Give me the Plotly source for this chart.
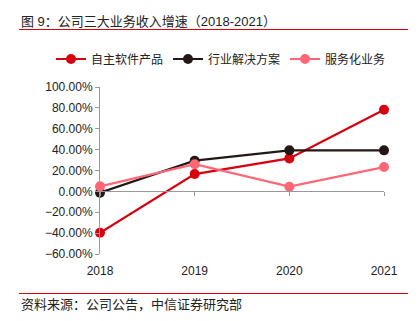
import plotly.graph_objects as go

years = ["2018", "2019", "2020", "2021"]
software = [-39.6, 16.6, 31.6, 78.2]
solutions = [-1.3, 29.4, 39.3, 39.3]
services = [4.8, 26.0, 4.5, 23.3]
series_names = ["自主软件产品", "行业解决方案", "服务化业务"]
colors = ["#D7000F", "#231815", "#FF6676"]

FONT = "Liberation Sans, Arial, Noto Sans CJK SC"
fig = go.Figure()
for name, vals, c in zip(series_names, [software, solutions, services], colors):
    fig.add_trace(go.Scatter(
        x=years, y=vals, name=name, mode="lines+markers",
        line=dict(color=c, width=2.2),
        marker=dict(color=c, size=10),
        cliponaxis=False,
    ))
# helper trace for zero-line axis with tick marks
fig.add_trace(go.Scatter(x=years, y=[None]*4, xaxis="x2", showlegend=False,
                         hoverinfo="skip", mode="lines"))

# plot area: x 100-384, y 87-254
L, R, T, B = 100, 384, 87, 254
W, H = R - L, B - T
px = lambda v: (v - L) / W
py = lambda v: (B - v) / H

ymin, ymax = -60, 100
fig.update_layout(
    width=419, height=321,
    margin=dict(l=L, r=419 - R, t=T, b=321 - B),
    paper_bgcolor="white", plot_bgcolor="white",
    font=dict(family=FONT, size=12, color="#333333"),
    showlegend=True,
    legend=dict(orientation="h", xref="paper", yref="paper",
                x=px(51), xanchor="left", y=py(59), yanchor="middle",
                font=dict(size=12, color="#222222"), itemwidth=30,
                tracegroupgap=0, borderwidth=0),
    xaxis=dict(type="category", range=[0, 3], showline=False, showgrid=False,
               zeroline=False, ticks="outside", ticklen=6, tickcolor="rgba(0,0,0,0)",
               tickfont=dict(size=12, color="#222222")),
    xaxis2=dict(type="category", range=[0, 3], overlaying="x", anchor="free",
                position=(0 - ymin) / (ymax - ymin), showline=True,
                linecolor="#999999", linewidth=1, ticks="outside", ticklen=4,
                tickcolor="#999999", showticklabels=False, showgrid=False,
                zeroline=False),
    yaxis=dict(range=[ymin, ymax], dtick=20, tickformat=".2f", ticksuffix="%",
               showline=True, linecolor="#999999", linewidth=1, ticks="outside",
               ticklen=4, tickcolor="#999999", showgrid=False, zeroline=False,
               tickfont=dict(size=12, color="#222222")),
)

fig.add_annotation(text="图 9：公司三大业务收入增速（2018-2021）", xref="paper", yref="paper",
                   x=px(19), y=py(22), xanchor="left", yanchor="middle",
                   showarrow=False, font=dict(size=13, color="#222222"))
fig.add_annotation(text="资料来源：公司公告，中信证券研究部", xref="paper", yref="paper",
                   x=px(19), y=py(304), xanchor="left", yanchor="middle",
                   showarrow=False, font=dict(size=13, color="#222222"))
for yy in (29.5, 293.5):
    fig.add_shape(type="line", xref="paper", yref="paper",
                  x0=px(19), x1=px(408), y0=py(yy), y1=py(yy),
                  line=dict(color="#D7000F", width=1))

fig.write_html("out.html")
